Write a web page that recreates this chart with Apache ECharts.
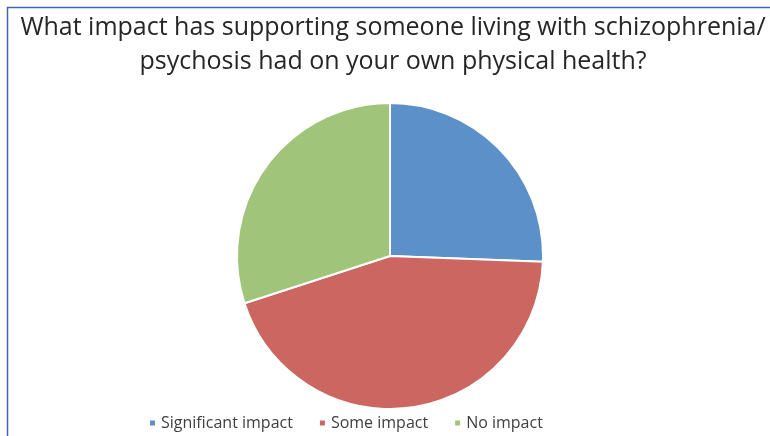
<!DOCTYPE html>
<html>
<head>
<meta charset="utf-8">
<script src="https://cdn.jsdelivr.net/npm/echarts@6/dist/echarts.min.js"></script>
<style>html,body{margin:0;padding:0;background:#fff;}#main{width:770px;height:436px;}</style>
</head>
<body>
<div id="main"></div>
<script>
var titleLines = ['What impact has supporting someone living with schizophrenia/', 'psychosis had on your own physical health?'];
var categories = ['Significant impact', 'Some impact', 'No impact'];
var values = [25.6, 44.4, 30.0];
var colors = ['#5B90C8', '#CB6661', '#A0C47A'];

var chart = echarts.init(document.getElementById('main'));
chart.setOption({
  backgroundColor: '#ffffff',
  animation: false,
  title: {
    text: titleLines.join('\n'),
    left: 388,
    textAlign: 'center',
    top: 6,
    textStyle: {
      fontFamily: 'Open Sans',
      fontSize: 25,
      fontWeight: 'normal',
      color: '#262626',
      lineHeight: 34
    }
  },
  graphic: [{
    type: 'rect',
    shape: { x: 7.5, y: 7.5, width: 800, height: 500 },
    style: { fill: 'none', stroke: '#4464AC', lineWidth: 1.5 },
    silent: true
  }],
  legend: {
    data: categories,
    bottom: 0,
    left: 143,
    icon: 'rect',
    itemWidth: 7,
    itemHeight: 7,
    itemGap: 25,
    textStyle: { fontFamily: 'Open Sans', fontSize: 16, color: '#404040' }
  },
  series: [{
    type: 'pie',
    center: [390, 256],
    radius: 153,
    startAngle: 90,
    clockwise: true,
    label: { show: false },
    labelLine: { show: false },
    itemStyle: { borderColor: '#ffffff', borderWidth: 2 },
    data: categories.map(function (c, i) {
      return { name: c, value: values[i], itemStyle: { color: colors[i] } };
    })
  }]
});
</script>
</body>
</html>
